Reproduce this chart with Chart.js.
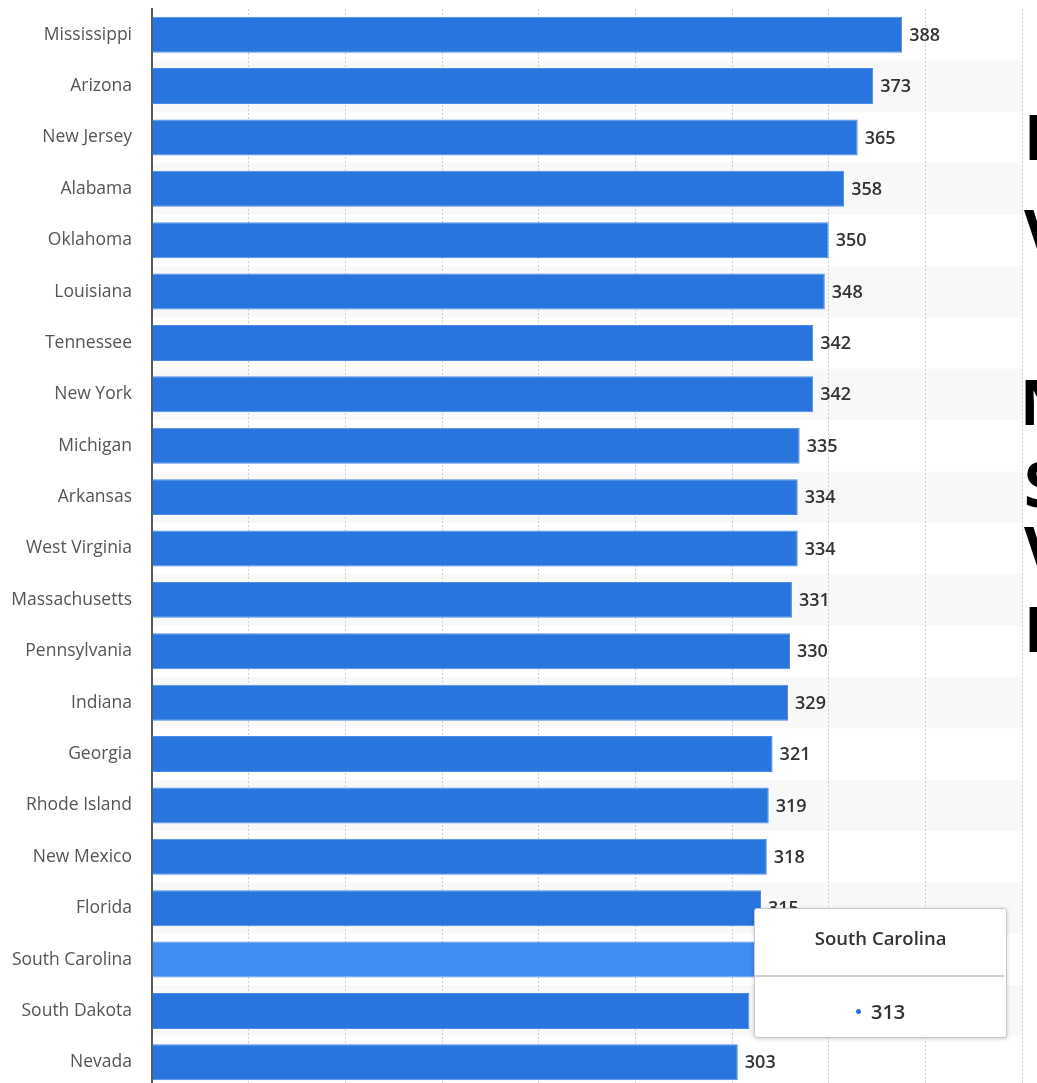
<!DOCTYPE html>
<html>
<head>
<meta charset="utf-8">
<script src="https://cdn.jsdelivr.net/npm/chart.js@4/dist/chart.umd.min.js"></script>
<style>
  html, body { margin: 0; padding: 0; background: #fff; overflow: hidden; width: 1037px; height: 1083px; }
  #wrap { position: absolute; left: 0; top: 0; width: 1037px; height: 1090px; }
  #side { position: absolute; left: 1024px; top: 0; font-family: "Open Sans", sans-serif; font-weight: 700; font-size: 62px; color: #000; white-space: nowrap; }
  #side div { position: absolute; left: 0; line-height: 1; }
  #tip { position: absolute; background: #fff; border: 1px solid #c8c8c8; border-radius: 3px; box-shadow: 0 1px 4px rgba(0,0,0,0.18); width: 251px; height: 128px; font-family: "Open Sans", sans-serif; color: #333; }
  #tip .t { position: absolute; left: 0; right: 0; top: 16px; text-align: center; font-size: 18.5px; font-weight: 600; }
  #tip .sep { position: absolute; left: 0; right: 2px; top: 66px; height: 2px; background: #d0d0d0; }
  #tip .b { position: absolute; left: 0; right: 0; top: 89px; text-align: center; font-size: 20px; font-weight: 600; }
  #tip .dot { display: inline-block; width: 5px; height: 5px; border-radius: 50%; background: #2876dd; vertical-align: middle; margin-right: 10px; position: relative; top: -2px; }
</style>
</head>
<body>
<div id="wrap"><canvas id="c"></canvas></div>
<div id="side">
  <div style="top:105px">I</div>
  <div style="top:200px">V</div>
  <div style="top:370px; left:-4px">N</div>
  <div style="top:452px">S</div>
  <div style="top:517px">V</div>
  <div style="top:597px">H</div>
</div>
<div id="tip"><div class="t"></div><div class="sep"></div><div class="b"><span class="dot"></span><span class="v"></span></div></div>
<script>
const categories = ["Mississippi","Arizona","New Jersey","Alabama","Oklahoma","Louisiana","Tennessee","New York","Michigan","Arkansas","West Virginia","Massachusetts","Pennsylvania","Indiana","Georgia","Rhode Island","New Mexico","Florida","South Carolina","South Dakota","Nevada"];
const values = [388,373,365,358,350,348,342,342,335,334,334,331,330,329,321,319,318,315,313,309,303];
const xTicks = [0,50,100,150,200,250,300,350,400,450];
const highlighted = "South Carolina";

const BAR = "#2876dd", BAR_HI = "#418cf0";
const hiIndex = categories.indexOf(highlighted);

const bandPlugin = {
  id: "bands",
  beforeDraw(chart) {
    const {ctx, chartArea, scales} = chart;
    const y = scales.y;
    const step = y.getPixelForValue(1) - y.getPixelForValue(0);
    ctx.save();
    ctx.fillStyle = "#f8f8f8";
    for (let i = 1; i < categories.length; i += 2) {
      const c = y.getPixelForValue(i);
      ctx.fillRect(chartArea.left, c - step / 2, chartArea.right - chartArea.left, step);
    }
    ctx.restore();
  }
};

const labelPlugin = {
  id: "vlabels",
  afterDatasetsDraw(chart) {
    const {ctx} = chart;
    const meta = chart.getDatasetMeta(0);
    ctx.save();
    ctx.font = "600 18px 'Open Sans'";
    ctx.fillStyle = "#333";
    ctx.textAlign = "left";
    ctx.textBaseline = "middle";
    meta.data.forEach((el, i) => {
      ctx.fillText(String(values[i]), el.x + 7, el.y + 1);
    });
    ctx.restore();
  }
};

const chart = new Chart(document.getElementById("c"), {
  type: "bar",
  data: {
    labels: categories,
    datasets: [{
      data: values,
      backgroundColor: categories.map((c, i) => i === hiIndex ? BAR_HI : BAR),
      borderColor: categories.map((c, i) => i === hiIndex ? "#5a9cf2" : "#4a8ce6"),
      borderWidth: 1,
      borderSkipped: "left",
      barPercentage: 0.7,
      categoryPercentage: 1.0
    }]
  },
  options: {
    indexAxis: "y",
    responsive: true,
    maintainAspectRatio: false,
    animation: false,
    layout: { padding: { top: 9, right: 15, bottom: 2, left: 0 } },
    plugins: { legend: { display: false }, tooltip: { enabled: false } },
    events: [],
    scales: {
      x: {
        min: xTicks[0], max: xTicks[xTicks.length - 1],
        afterBuildTicks(s) { s.ticks = xTicks.map(v => ({ value: v })); },
        afterFit(s) { s.height = 0; s.paddingLeft = 0; s.paddingRight = 0; },
        ticks: { display: false },
        grid: { color: "#cfcfcf", lineWidth: 1, drawTicks: false },
        border: { display: false, dash: [2, 2] }
      },
      y: {
        afterFit(s) { s.width = 152; s.paddingTop = 0; s.paddingBottom = 0; },
        ticks: { color: "#555", font: { family: "Open Sans", size: 17.5 }, padding: 20, autoSkip: false },
        grid: { display: false, drawTicks: false },
        border: { display: true, color: "#5a5a5a", width: 2 }
      }
    }
  },
  plugins: [bandPlugin, labelPlugin]
});

const el = chart.getDatasetMeta(0).data[hiIndex];
const tip = document.getElementById("tip");
tip.querySelector(".t").textContent = categories[hiIndex];
tip.querySelector(".v").textContent = values[hiIndex];
tip.style.left = (el.x - 3) + "px";
tip.style.top = (el.y - 52) + "px";
</script>
</body>
</html>
